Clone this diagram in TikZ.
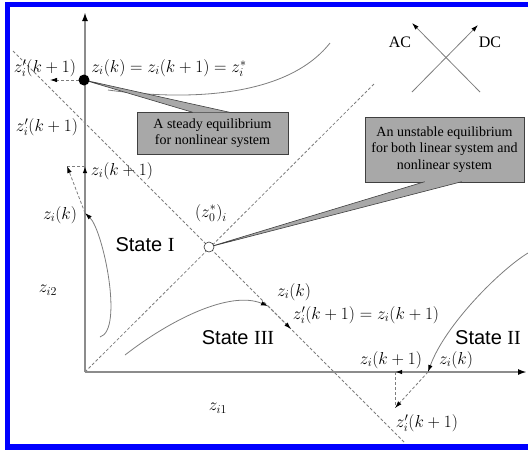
\documentclass[tikz,border=0pt]{standalone}
\usepackage{fontspec}
\setmainfont{Liberation Serif}
\setsansfont{Liberation Sans}
\usetikzlibrary{arrows.meta,calc}
\definecolor{frameblue}{RGB}{0,0,255}
\definecolor{axisgray}{RGB}{140,140,140}
\definecolor{linegray}{RGB}{125,125,125}
\definecolor{notegray}{RGB}{168,168,168}

\begin{document}
\begin{tikzpicture}[x=1pt, y=-1pt,
  blueframe/.style={draw=frameblue, line width=5.5pt},
  axisline/.style={draw=axisgray, line width=2.4pt},
  traj/.style={draw=linegray, line width=0.8pt},
  guide/.style={draw=linegray, line width=0.8pt, dash pattern=on 3pt off 2pt},
  bigtip/.style={-{Latex[length=9pt, width=6pt, color=black]}},
  headtip/.style={-{Latex[length=7pt, width=4.5pt, color=black]}},
  note/.style={draw=black!75, fill=notegray, line width=0.6pt, align=center, inner sep=0pt, font=\fontsize{14}{16.5}\selectfont},
  tail/.style={fill=notegray, draw=black!75, line width=0.6pt},
  lbl/.style={inner sep=0pt, font=\fontsize{17}{19}\selectfont},
  statelbl/.style={inner sep=0pt, font=\sffamily\fontsize{20}{22}\selectfont},
  eqdot/.style={circle, fill=black, inner sep=0pt, minimum size=11pt},
  opendot/.style={circle, draw=black!80, fill=white, line width=0.6pt, inner sep=0pt, minimum size=10pt}
]
\useasboundingbox (0,0) rectangle (528,451);

\draw[blueframe] (528,4.5) -- (7.5,4.5) -- (7.5,447) -- (528,447);

\coordinate (O) at (85,372);
\coordinate (ytop) at (85,12);
\coordinate (xend) at (527,372);
\coordinate (d1b) at (375,83);
\coordinate (d2a) at (13,51);
\coordinate (d2b) at (405,443);
\coordinate (steadyc) at (84,80);
\coordinate (unstablec) at (209,247);

\coordinate (zp0) at (50,80);
\coordinate (zk1) at (85,213);
\coordinate (zn1) at (85,166);
\coordinate (zp1) at (67,166);
\coordinate (zk3) at (268,306);
\coordinate (zp3) at (291,329);
\coordinate (zk2) at (428,372);
\coordinate (zn2) at (395,372);
\coordinate (zp2) at (395,408);

\coordinate (acs) at (480,92);
\coordinate (ace) at (412,23);
\coordinate (dcs) at (412,92);
\coordinate (dce) at (478,25);

\draw[guide] (O) -- (d1b);
\draw[guide] (d2a) -- (d2b);
\draw[axisline, bigtip] (O) -- (ytop);
\draw[axisline, bigtip] (O) -- (xend);

\draw[traj] (108,90) .. controls (180,100) and (285,100) .. (330,43);
\draw[traj, headtip] (100,337) .. controls (124,330) and (103,230) .. (zk1);
\draw[traj, headtip] (125,355) .. controls (170,320) and (230,290) .. (zk3);
\draw[traj, headtip] (528,253) .. controls (500,270) and (445,325) .. (zk2);

\draw[guide, headtip] (steadyc) -- (zp0);
\draw[axisline, headtip] (zk1) -- (zn1);
\draw[guide] (zn1) -- (zp1);
\draw[guide, headtip] (zk1) -- (zp1);
\draw[guide, headtip] (zk3) -- (zp3);
\draw[axisline, headtip] (zk2) -- (zn2);
\draw[guide] (zn2) -- (zp2);
\draw[guide, headtip] (zk2) -- (zp2);

\draw[traj, headtip] (acs) -- (ace);
\draw[traj, headtip] (dcs) -- (dce);

\node[note, minimum width=151pt, minimum height=42pt] (steadynote) at (212.5,133) {A steady equilibrium\\for nonlinear system};
\node[note, minimum width=159pt, minimum height=65pt] (unstablenote) at (444.5,149.5) {An unstable equilibrium\\for both linear system and\\nonlinear system};
\filldraw[tail] ($(steadynote.north west)+(56,0.6)$) -- (steadyc) -- ($(steadynote.north west)+(93,0.6)$);
\filldraw[tail] ($(unstablenote.south west)+(60,-0.6)$) -- (unstablec) -- ($(unstablenote.south west)+(97,-0.6)$);

\node[eqdot] (steady) at (steadyc) {};
\node[opendot] (unstable) at (unstablec) {};

\node[lbl] (ztop) at (45,68) {$z_i^{\prime}(k+1)$};
\node[lbl] (zeqtop) at (169,68) {$z_i(k)=z_i(k+1)=z_i^{*}$};
\node[lbl] (zp1l) at (47,127) {$z_i^{\prime}(k+1)$};
\node[lbl] (zn1l) at (122,171) {$z_i(k+1)$};
\node[lbl] (zk1l) at (60,215) {$z_i(k)$};
\node[lbl] (zi2) at (48,290) {$z_{i2}$};
\node[lbl] (zstar) at (211,213) {$\bigl(z_0^{*}\bigr)_i$};
\node[lbl] (zk3l) at (294,292) {$z_i(k)$};
\node[lbl] (zeq3) at (366,315) {$z_i^{\prime}(k+1)=z_i(k+1)$};
\node[lbl] (zn2l) at (391,360) {$z_i(k+1)$};
\node[lbl] (zk2l) at (456,360) {$z_i(k)$};
\node[lbl] (zp2l) at (427,423) {$z_i^{\prime}(k+1)$};
\node[lbl] (zi1) at (218,408) {$z_{i1}$};

\node[statelbl] (state1) at (145,245) {State \textrm{I}};
\node[statelbl] (state3) at (238,338) {State \textrm{III}};
\node[statelbl] (state2) at (488,338) {State \textrm{II}};

\node[lbl, font=\fontsize{16}{18}\selectfont] (aclbl) at (400,42) {AC};
\node[lbl, font=\fontsize{16}{18}\selectfont] (dclbl) at (490,42) {DC};
\end{tikzpicture}
\end{document}
